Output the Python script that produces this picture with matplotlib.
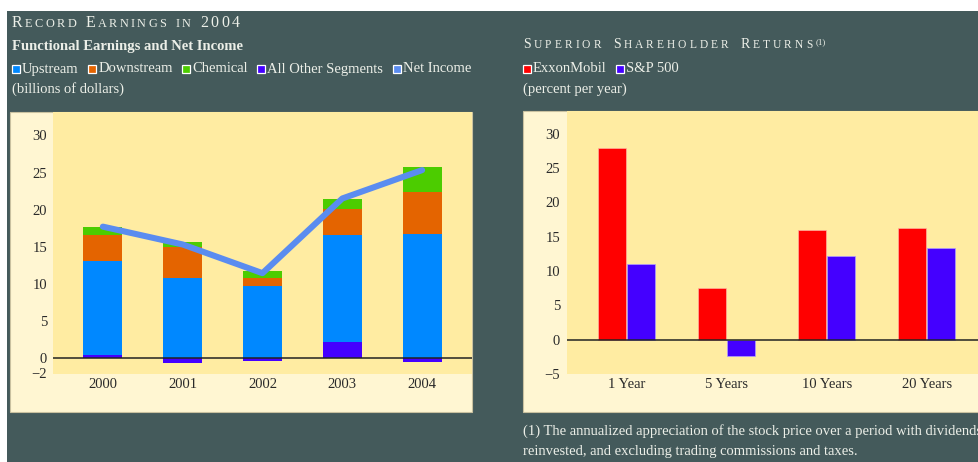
import matplotlib
matplotlib.use("Agg")
import matplotlib.pyplot as plt
from matplotlib.patches import Rectangle

plt.rcParams['font.family'] = ['Liberation Serif', 'DejaVu Serif']

W, H = 979, 462

# --- data -------------------------------------------------------------
# functional earnings and net income (billions of dollars)
years = ["2000", "2001", "2002", "2003", "2004"]
upstream = [12.66, 10.75, 9.70, 14.40, 16.70]
downstream = [3.42, 4.25, 1.15, 3.50, 5.65]
chemical = [1.16, 0.70, 0.90, 1.45, 3.40]
other = [0.48, -0.60, -0.36, 2.15, -0.55]
net_income = [17.72, 15.32, 11.46, 21.51, 25.33]

# shareholder returns (percent per year)
periods = ["1 Year", "5 Years", "10 Years", "20 Years"]
exxon = [27.9, 7.5, 15.9, 16.2]
sp500 = [11.0, -2.4, 12.2, 13.4]

# --- colours ------------------------------------------------------------
DARK = '#445a5b'
CREAM = '#fff6d2'
INNER = '#ffeca2'
TXT = '#ecefe8'
C_UP = '#0088ff'
C_DOWN = '#e46400'
C_CHEM = '#4ccc00'
C_OTHER = '#4400ff'
C_NET = '#5a8cf0'
C_XOM = '#ff0000'
C_SP = '#4400ff'

fig = plt.figure(figsize=(W / 100, H / 100), dpi=100)
fig.patch.set_facecolor(DARK)


def box(x0, y0, x1, y1, **kw):
    # rectangle in pixel coords (y down from top)
    r = Rectangle((x0 / W, 1 - y1 / H), (x1 - x0) / W, (y1 - y0) / H,
                  transform=fig.transFigure, **kw)
    fig.add_artist(r)
    return r


def txt(x, y, s, **kw):
    return fig.text(x / W, 1 - y / H, s, va='baseline', **kw)


# white margins and the two cream panels
box(0, 0, W, 11, facecolor='white', edgecolor='none', zorder=-2)
box(0, 0, 7, H, facecolor='white', edgecolor='none', zorder=-2)
box(10, 112, 472, 412, facecolor=CREAM, edgecolor='#c9c1a0', lw=0.8, zorder=-1)
box(523, 111, W + 5, 412, facecolor=CREAM, edgecolor='#c9c1a0', lw=0.8, zorder=-1)

renderer = fig.canvas.get_renderer()


def small_caps(x, y, s, big, small, track, space):
    # capitals and digits full size, lowercase as small capitals
    for ch in s:
        if ch == ' ':
            x += space
            continue
        size = big if (ch.isupper() or ch.isdigit()) else small
        t = txt(x, y, ch.upper(), fontsize=size, color=TXT)
        x += t.get_window_extent(renderer).width + track
    return x


def legend_row(x, y, items, size, gap):
    for label, color in items:
        box(x, y - 8, x + 8, y, facecolor=color, edgecolor='white', lw=0.9)
        t = txt(x + 10, y, label, fontsize=size, color=TXT)
        x += 10 + t.get_window_extent(renderer).width + gap


# --- left headings --------------------------------------------------------
small_caps(12, 27, "Record Earnings in 2004", 11.5, 8.8, 2.4, 7)
txt(12, 50, "Functional Earnings and Net Income", fontsize=10.5,
    fontweight='bold', color=TXT)
legend_row(12, 72.5, [("Upstream", C_UP), ("Downstream", C_DOWN),
                      ("Chemical", C_CHEM), ("All Other Segments", C_OTHER),
                      ("Net Income", C_NET)], 10.5, 9.5)
txt(12, 93, "(billions of dollars)", fontsize=10.5, color=TXT)

# --- right headings -------------------------------------------------------
xe = small_caps(523, 48.5, "Superior Shareholder Returns", 10, 8.3, 3.0, 9)
txt(xe, 44.5, "(1)", fontsize=6.5, color=TXT)
legend_row(523, 72.5, [("ExxonMobil", C_XOM), ("S&P 500", C_SP)], 10.5, 9.5)
txt(523, 93, "(percent per year)", fontsize=10.5, color=TXT)

txt(523, 435, "(1) The annualized appreciation of the stock price over a period "
    "with dividends", fontsize=10.5, color=TXT)
txt(523, 455, "reinvested, and excluding trading commissions and taxes.",
    fontsize=10.5, color=TXT)

# --- left chart -------------------------------------------------------------
ax1 = fig.add_axes([53 / W, 1 - 374 / H, (472 - 53) / W, (374 - 112) / H])
ax1.set_facecolor(INNER)
x = list(range(len(years)))
bw = 0.49
base = [max(o, 0) for o in other]
ax1.bar(x, other, bw, color=C_OTHER)
ax1.bar(x, upstream, bw, bottom=base, color=C_UP)
b2 = [b + u for b, u in zip(base, upstream)]
ax1.bar(x, downstream, bw, bottom=b2, color=C_DOWN)
b3 = [b + d for b, d in zip(b2, downstream)]
ax1.bar(x, chemical, bw, bottom=b3, color=C_CHEM)
ax1.axhline(0, color='#222222', lw=1.1, zorder=3)
ax1.plot(x, net_income, color=C_NET, lw=4.4, solid_capstyle='round',
         solid_joinstyle='round', zorder=4)
ax1.set_xlim(-0.625, 4.625)
ax1.set_ylim(-2.11, 33.15)
ax1.set_xticks(x)
ax1.set_xticklabels(years)
ax1.set_yticks([-2, 0, 5, 10, 15, 20, 25, 30])

# --- right chart ------------------------------------------------------------
ax2 = fig.add_axes([567 / W, 1 - 374 / H, (W - 567) / W, (374 - 111) / H])
ax2.set_facecolor(INNER)
xp = list(range(len(periods)))
w2 = 0.28
ax2.bar([p - 0.145 for p in xp], exxon, w2, color=C_XOM,
        edgecolor='#ffb0a0', lw=0.5)
ax2.bar([p + 0.145 for p in xp], sp500, w2, color=C_SP,
        edgecolor='#b0a0ff', lw=0.5)
ax2.axhline(0, color='#222222', lw=1.1, zorder=3)
ax2.set_xlim(-0.597, 3.523)
ax2.set_ylim(-4.95, 33.3)
ax2.set_xticks(xp)
ax2.set_xticklabels(periods)
ax2.set_yticks([-5, 0, 5, 10, 15, 20, 25, 30])

for ax, ypad in ((ax1, 4.3), (ax2, 5)):
    for s in ax.spines.values():
        s.set_visible(False)
    ax.tick_params(axis='both', length=0, labelsize=10.5, labelcolor='#2a2a2a')
    ax.tick_params(axis='y', pad=ypad)
    ax.tick_params(axis='x', pad=3)

fig.savefig('out.png', dpi=100, facecolor=fig.get_facecolor())
